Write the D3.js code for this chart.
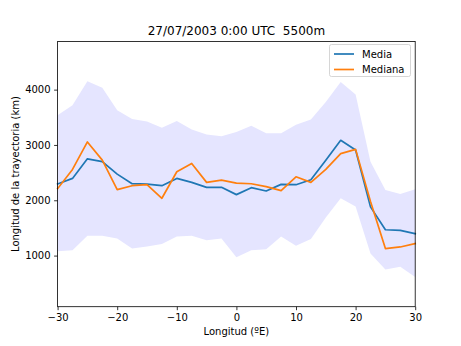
<!DOCTYPE html>
<html><head><meta charset="utf-8">
<script src="https://cdn.jsdelivr.net/npm/d3@7"></script>
<style>body{margin:0;background:#fff}svg{display:block;font-family:"DejaVu Sans",sans-serif}text{white-space:pre}</style>
</head><body>
<svg id="c" width="461" height="346"></svg>
<script>
const lons = [-30,-27.5,-25,-22.5,-20,-17.5,-15,-12.5,-10,-7.5,-5,-2.5,0,2.5,5,7.5,10,12.5,15,17.5,20,22.5,25,27.5,30];
const media = [2295,2395,2749,2700,2473,2300,2293,2263,2395,2323,2234,2234,2102,2228,2168,2287,2281,2371,2725,3084,2910,1880,1467,1455,1395];
const mediana = [2210,2557,3054,2725,2192,2263,2281,2036,2515,2665,2323,2365,2311,2299,2246,2174,2425,2323,2557,2844,2920,1977,1126,1156,1216];
const upper = [3536,3717,4150,4036,3627,3470,3422,3313,3434,3277,3187,3157,3235,3349,3211,3211,3367,3458,3777,4139,3910,2695,2186,2114,2198];
const lower = [1078,1096,1359,1359,1311,1126,1162,1210,1347,1359,1275,1311,970,1096,1114,1347,1180,1299,1689,2036,1886,1036,749,796,611];
const xTicks = [-30,-20,-10,0,10,20,30];
const yTicks = [1000,2000,3000,4000];
const title = "27/07/2003 0:00 UTC  5500m";
const xLabel = "Longitud (ºE)";
const yLabel = "Longitud de la trayectoria (km)";
const seriesNames = ["Media","Mediana"];
const colors = ["#1f77b4","#ff7f0e"];

const svg = d3.select("#c");
const L=57.6, R=415.2, T=41.5, B=306.7;
const x = d3.scaleLinear().domain([-30,30]).range([L,R]);
const y = d3.scaleLinear().domain([76,4870]).range([B,T]);

const idx = d3.range(lons.length);
svg.append("path")
  .attr("d", d3.area().x(i=>x(lons[i])).y0(i=>y(lower[i])).y1(i=>y(upper[i]))(idx))
  .attr("fill","#e5e5ff").attr("stroke","none");

[media, mediana].forEach((s,k)=>{
  svg.append("path")
    .attr("d", d3.line().x(i=>x(lons[i])).y(i=>y(s[i]))(idx))
    .attr("fill","none").attr("stroke",colors[k]).attr("stroke-width",1.7)
    .attr("stroke-linejoin","round").attr("stroke-linecap","square");
});

const xa = svg.append("g").attr("transform",`translate(0,${B})`)
  .call(d3.axisBottom(x).tickValues(xTicks).tickSize(3.5).tickPadding(3.5).tickFormat(d=>d<0?"\u2212"+(-d):String(d)));
const ya = svg.append("g").attr("transform",`translate(${L},0)`)
  .call(d3.axisLeft(y).tickValues(yTicks).tickSize(3.5).tickPadding(3.5).tickFormat(d3.format("d")));
[xa,ya].forEach(a=>{
  a.select(".domain").remove();
  a.selectAll("line").attr("stroke","#000").attr("stroke-width",0.8);
  a.selectAll("text").attr("font-size",10).attr("fill","#000").attr("font-family","DejaVu Sans");
});

svg.append("rect").attr("x",L).attr("y",T).attr("width",R-L).attr("height",B-T)
  .attr("fill","none").attr("stroke","#000").attr("stroke-width",0.8);

svg.append("text").attr("x",(L+R)/2).attr("y",T-7).attr("text-anchor","middle")
  .attr("font-size",12).attr("xml:space","preserve").text(title);
svg.append("text").attr("x",(L+R)/2).attr("y",335).attr("text-anchor","middle")
  .attr("font-size",10).text(xLabel);
svg.append("text").attr("transform",`translate(19,${(T+B)/2}) rotate(-90)`).attr("text-anchor","middle")
  .attr("font-size",10).text(yLabel);

const lg = svg.append("g");
lg.append("rect").attr("x",329.5).attr("y",44.5).attr("width",81).attr("height",32).attr("rx",2)
  .attr("fill","#fff").attr("fill-opacity",0.8).attr("stroke","#ccc").attr("stroke-width",0.8);
seriesNames.forEach((n,k)=>{
  const yy = 54 + k*15.5;
  lg.append("line").attr("x1",334).attr("x2",354).attr("y1",yy).attr("y2",yy)
    .attr("stroke",colors[k]).attr("stroke-width",1.7);
  lg.append("text").attr("x",362).attr("y",yy+3.6).attr("font-size",10).text(n);
});
</script>
</body></html>
